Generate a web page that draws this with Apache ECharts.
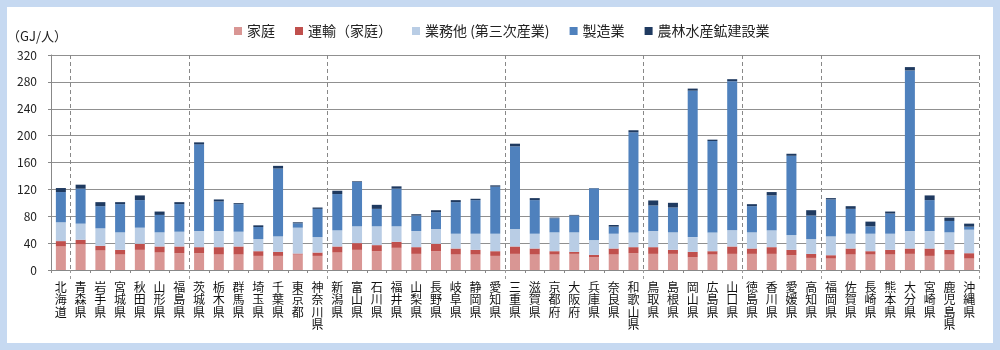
<!DOCTYPE html>
<html><head><meta charset="utf-8">
<script src="https://cdn.jsdelivr.net/npm/echarts@6/dist/echarts.min.js"></script>
<style>
html,body{margin:0;padding:0;background:#c6d9f1;width:1000px;height:350px;overflow:hidden}
#panel{position:absolute;left:7px;top:7px;width:986px;height:336px;background:#fff}
#chart{position:absolute;left:0;top:0;width:1000px;height:350px}
</style></head>
<body><div id="panel"></div><div id="chart"></div>
<script>
const categories = ['北海道','青森県','岩手県','宮城県','秋田県','山形県','福島県','茨城県','栃木県','群馬県','埼玉県','千葉県','東京都','神奈川県','新潟県','富山県','石川県','福井県','山梨県','長野県','岐阜県','静岡県','愛知県','三重県','滋賀県','京都府','大阪府','兵庫県','奈良県','和歌山県','鳥取県','島根県','岡山県','広島県','山口県','徳島県','香川県','愛媛県','高知県','福岡県','佐賀県','長崎県','熊本県','大分県','宮崎県','鹿児島県','沖縄県'];
const seriesNames = ['家庭','運輸（家庭）','業務他 (第三次産業)','製造業','農林水産鉱建設業'];
const katei    = [35,38,29,23,30,26,25,25,23,23,21,21,23,21,26,30,28,33,24,28,23,23,21,24,23,23,24,19,23,25,24,24,19,23,24,24,24,22,18,17,23,23,23,24,21,23,17];
const unyu     = [8,7,7,7,9,9,10,9,11,12,7,6,1.5,5,9,10,9,9,10,11,9,7,7,11,9,5,3,3.5,9,9,10,6,8,5,11,8,10,8,6,5,9,5,7,8,11,7,8];
const gyomu    = [28,24,26,26,24,21,22,24,24,22,18,23,38.5,23,24,25,28,23,24,22,22,24,26,26,22,28,29,22,22,22,24,26,22,28,24,24,25,22,22,28,22,26,24,26,26,26,35];
const seizo    = [45,52,33,42,41,26,41,129,44,41,18,101,6.5,42,54,66,26,56,23,25,47,50,70,123,50,21,25,77,10.5,149,38,37,218,136,222,39,52,118,35,55,37,11,30,239,46,17,4.5];
const norin    = [6,6,6,3,7,5,3,3,3,1.5,2.5,4,1.5,2,5,1,6,3.5,2,3,3,2,2,4,3,1,1,0.5,2.5,3,7.5,7,3,2,3,3,5,3,8,2,4,7,3,5,7,5,4.5];
const yTicks   = {min:0, max:320, interval:40};
const regionStarts = [1,7,14,23,30,35,39];
const colors = ['#d99694','#c0504d','#b9cde5','#4f81bd','#1f3a60'];

const chart = echarts.init(document.getElementById('chart'), null, {renderer:'canvas'});
const values = [katei, unyu, gyomu, seizo, norin];
const font = '"Noto Sans CJK JP", "Noto Sans", sans-serif';
chart.setOption({
  backgroundColor: 'transparent',
  textStyle: {fontFamily: font},
  animation: false,
  color: colors,
  legend: {
    left: 229, top: 19, itemWidth: 8, itemHeight: 8, itemGap: 20,
    icon: 'rect',
    textStyle: {fontSize: 14, color: '#222', fontFamily: font},
    data: seriesNames
  },
  grid: {left: 51, right: 21, top: 55, bottom: 80},
  xAxis: [{
    type: 'category', data: categories,
    axisLine: {lineStyle: {color: '#888', width: 1}},
    axisTick: {show: true, length: 3, lineStyle: {color: '#888'}},
    axisLabel: {
      interval: 0, margin: 11, color: '#111', fontSize: 12, lineHeight: 12.5,
      fontFamily: font, verticalAlign: 'top',
      formatter: v => v.split('').join('\n')
    },
    splitLine: {
      show: true,
      interval: (i) => regionStarts.includes(i),
      lineStyle: {color: '#888', type: [4, 3], width: 1}
    }
  }, {
    type: 'category', data: categories, position: 'bottom',
    axisLine: {show: false},
    axisLabel: {show: false},
    axisTick: {show: true, length: 10, interval: (i) => regionStarts.includes(i), lineStyle: {color: '#999', type: [3, 3]}},
    splitLine: {show: false}
  }],
  yAxis: {
    type: 'value', min: yTicks.min, max: yTicks.max, interval: yTicks.interval,
    name: '（GJ/人）', nameLocation: 'end', nameGap: 12,
    nameTextStyle: {fontSize: 13, color: '#222', align: 'center', padding: [0, 28, 0, 0], fontFamily: font},
    axisLine: {show: true, lineStyle: {color: '#888'}},
    axisTick: {show: true, length: 3, lineStyle: {color: '#888'}},
    axisLabel: {fontSize: 12, color: '#222', margin: 14, fontFamily: font},
    splitLine: {lineStyle: {color: '#909090', width: 1}}
  },
  series: seriesNames.map((n, k) => ({
    name: n, type: 'bar', stack: 'total', barWidth: 10,
    data: values[k],
    itemStyle: {color: colors[k]}
  }))
});
</script></body></html>
